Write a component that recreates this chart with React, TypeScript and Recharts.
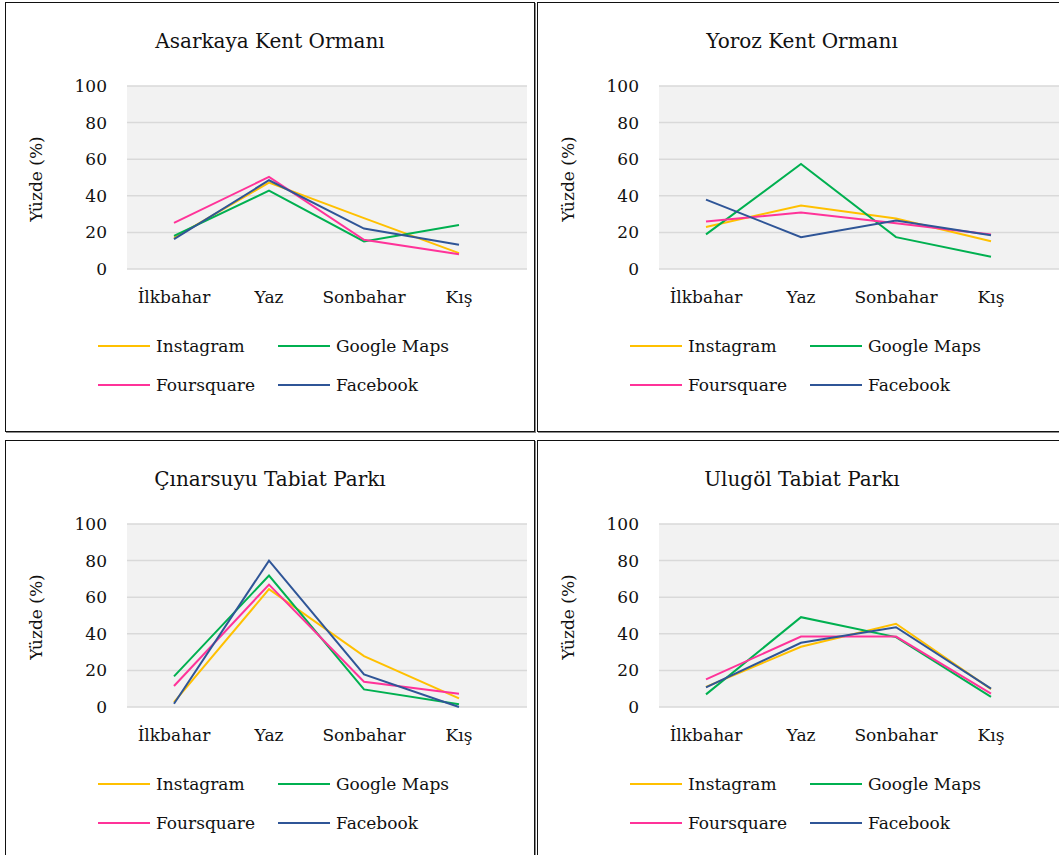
import React from 'react'
import { LineChart, Line, XAxis, YAxis, CartesianGrid } from 'recharts'

const seasons = ['İlkbahar', 'Yaz', 'Sonbahar', 'Kış']
const yTicks = [0, 20, 40, 60, 80, 100]

// values, % per season
const asarkayaInstagram = [17, 47.2, 27.8, 8.7]
const asarkayaGoogle = [18.1, 42.8, 15.1, 24.1]
const asarkayaFoursquare = [25.2, 50.3, 16, 8]
const asarkayaFacebook = [16.3, 48.5, 22.1, 13.2]

const yorozInstagram = [23, 34.7, 27.6, 15.2]
const yorozGoogle = [18.9, 57.4, 17.4, 6.7]
const yorozFoursquare = [26, 30.9, 25, 18.9]
const yorozFacebook = [37.9, 17.4, 26.5, 18.5]

const cinarsuyuInstagram = [2.7, 64.4, 27.8, 4.7]
const cinarsuyuGoogle = [16.7, 71.8, 9.6, 1.5]
const cinarsuyuFoursquare = [11.5, 66.9, 13.8, 7.3]
const cinarsuyuFacebook = [1.8, 80, 17.8, 0]

const ulugolInstagram = [11, 32.9, 45.5, 9.8]
const ulugolGoogle = [6.9, 49.1, 38.2, 5.5]
const ulugolFoursquare = [15.1, 38.5, 38.5, 7.3]
const ulugolFacebook = [10.7, 35.1, 43.6, 10]

const series = [
  { key: 'instagram', name: 'Instagram', color: '#FFC000' },
  { key: 'google', name: 'Google Maps', color: '#00B050' },
  { key: 'foursquare', name: 'Foursquare', color: '#FF3399' },
  { key: 'facebook', name: 'Facebook', color: '#2F5597' },
]

const FONT = '"DejaVu Serif", serif'

function buildData(ig: number[], gm: number[], fs: number[], fb: number[]) {
  return seasons.map((s, i) => ({
    season: s,
    instagram: ig[i],
    google: gm[i],
    foursquare: fs[i],
    facebook: fb[i],
  }))
}

interface PanelProps {
  title: string
  data: any[]
  left: number
  top: number
}

function Panel({ title, data, left, top }: PanelProps) {
  return (
    <div
      style={{
        position: 'absolute',
        left,
        top,
        width: 530,
        height: 430,
        border: '1px solid #111',
        boxShadow: '1px 1px 0 #8a8a8a',
        boxSizing: 'border-box',
        background: '#fff',
        overflow: 'hidden',
        fontFamily: FONT,
      }}
    >
      <div
        style={{
          position: 'absolute',
          top: 26,
          left: 0,
          width: 528,
          textAlign: 'center',
          fontSize: 20,
          color: '#111',
        }}
      >
        {title}
      </div>
      <div
        style={{
          position: 'absolute',
          left: 30,
          top: 176,
          transform: 'translate(-50%, -50%) rotate(-90deg)',
          whiteSpace: 'nowrap',
          fontSize: 17,
          color: '#111',
        }}
      >
        Yüzde (%)
      </div>
      <div style={{ position: 'absolute', left: 0, top: 0 }}>
        <LineChart width={530} height={416} data={data} margin={{ top: 83, right: 9, left: 61, bottom: 120 }}>
          <CartesianGrid vertical={false} fill="#F2F2F2" stroke="#D9D9D9" strokeWidth={1.5} />
          <XAxis
            dataKey="season"
            axisLine={false}
            tickLine={false}
            tickSize={0}
            tickMargin={22}
            padding={{ left: 47, right: 68 }}
            tick={{ fill: '#111', fontSize: 17, fontFamily: FONT }}
            height={30}
          />
          <YAxis
            domain={[0, 100]}
            ticks={yTicks}
            axisLine={false}
            tickLine={false}
            tickSize={0}
            tickMargin={20}
            width={60}
            tick={{ fill: '#111', fontSize: 17, fontFamily: FONT }}
          />
          {series.map(s => (
            <Line
              key={s.key}
              type="linear"
              dataKey={s.key}
              name={s.name}
              stroke={s.color}
              strokeWidth={2}
              dot={false}
              isAnimationActive={false}
            />
          ))}
        </LineChart>
      </div>
      {series.map((s, i) => (
        <div
          key={s.key}
          style={{
            position: 'absolute',
            left: i % 2 === 0 ? 92 : 272,
            top: i < 2 ? 333 : 372,
            display: 'flex',
            alignItems: 'center',
            fontSize: 17,
            color: '#111',
            whiteSpace: 'nowrap',
          }}
        >
          <span style={{ display: 'inline-block', width: 52, height: 2, background: s.color, marginRight: 6 }} />
          {s.name}
        </div>
      ))}
    </div>
  )
}

export default function App() {
  return (
    <div style={{ position: 'absolute', left: 0, top: 0, width: 1059, height: 855, overflow: 'hidden', background: '#fff' }}>
      <Panel
        title="Asarkaya Kent Ormanı"
        data={buildData(asarkayaInstagram, asarkayaGoogle, asarkayaFoursquare, asarkayaFacebook)}
        left={5}
        top={2}
      />
      <Panel
        title="Yoroz Kent Ormanı"
        data={buildData(yorozInstagram, yorozGoogle, yorozFoursquare, yorozFacebook)}
        left={537}
        top={2}
      />
      <Panel
        title="Çınarsuyu Tabiat Parkı"
        data={buildData(cinarsuyuInstagram, cinarsuyuGoogle, cinarsuyuFoursquare, cinarsuyuFacebook)}
        left={5}
        top={440}
      />
      <Panel
        title="Ulugöl Tabiat Parkı"
        data={buildData(ulugolInstagram, ulugolGoogle, ulugolFoursquare, ulugolFacebook)}
        left={537}
        top={440}
      />
    </div>
  )
}
